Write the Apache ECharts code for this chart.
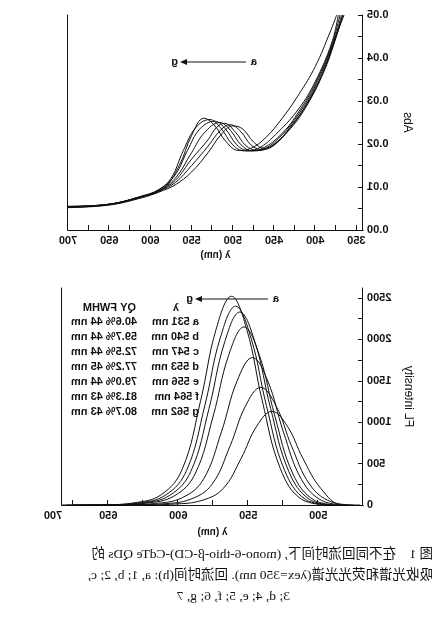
<!DOCTYPE html>
<html><head><meta charset="utf-8">
<script src="https://cdn.jsdelivr.net/npm/echarts@6/dist/echarts.min.js"></script>
<style>html,body{margin:0;padding:0;background:#fff}#c{width:442px;height:619px;transform:scaleX(-1)}</style>
</head><body><div id="c"></div>
<script>
// Absorption spectra (wavelength nm, Abs)
const absA=[[700,.0052],[650,.0058],[610,.0075],[590,.0088],[570,.0105],[550,.0135],[530,.018],[515,.022],[500,.0242],[488,.0235],[475,.0205],[462,.019],[450,.0198],[430,.024],[410,.0295],[390,.037],[375,.045],[365,.05]];
const absB=[[700,.0053],[650,.0059],[610,.0077],[590,.009],[570,.011],[550,.015],[530,.0195],[515,.0232],[503,.0245],[490,.0228],[478,.0198],[465,.0187],[450,.0197],[430,.0238],[410,.0293],[390,.0368],[375,.0448],[366,.05]];
const absC=[[700,.0053],[650,.0059],[610,.0078],[590,.0091],[570,.0115],[550,.0165],[530,.021],[520,.0238],[510,.0248],[497,.0228],[484,.0196],[470,.0185],[455,.0193],[430,.0236],[410,.029],[390,.0366],[375,.0446],[367,.05]];
const absD=[[700,.0054],[650,.006],[610,.0078],[590,.0092],[570,.012],[550,.018],[535,.0225],[516,.025],[503,.0232],[490,.0198],[476,.0184],[460,.019],[440,.0222],[420,.027],[400,.0335],[380,.0425],[368,.05]];
const absE=[[700,.0054],[650,.006],[610,.0079],[590,.0093],[570,.0128],[555,.0185],[540,.0235],[522,.0253],[509,.0235],[495,.0198],[481,.0184],[465,.0189],[440,.0225],[420,.0275],[400,.034],[380,.043],[370,.05]];
const absF=[[700,.0055],[650,.006],[610,.0079],[590,.0094],[575,.012],[560,.0185],[545,.0238],[528,.0257],[515,.0238],[500,.0198],[486,.0184],[470,.0189],[445,.0228],[420,.0282],[400,.0345],[380,.0435],[372,.05]];
const absG=[[700,.0055],[650,.006],[610,.0078],[585,.0095],[565,.015],[550,.022],[535,.026],[523,.0245],[508,.0205],[493,.0185],[478,.019],[460,.0215],[440,.026],[420,.0315],[400,.038],[382,.046],[374,.05]];
// Fluorescence spectra (wavelength nm, FL intensity)
const flA=[[470,0],[483,2],[498,197],[511,565],[522,950],[533,1130],[544,950],[555,565],[568,197],[583,56],[603,11],[625,1],[650,0]];
const flB=[[475,0],[491,40],[506,247],[519,710],[530,1193],[541,1420],[552,1193],[563,710],[576,247],[591,71],[611,14],[635,1],[660,0]];
const flC=[[480,0],[497,50],[512,310],[525,890],[536,1495],[547,1780],[558,1495],[569,890],[582,310],[597,89],[617,18],[640,2],[665,0]];
const flD=[[485,0],[503,60],[518,374],[531,1075],[542,1806],[553,2150],[564,1806],[575,1075],[588,374],[603,108],[623,22],[645,2],[670,0]];
const flE=[[488,0],[506,65],[521,405],[534,1165],[545,1957],[556,2330],[567,1957],[578,1165],[591,405],[606,117],[626,23],[648,2],[675,0]];
const flF=[[490,0],[509,67],[524,418],[537,1200],[548,2016],[559,2400],[570,2016],[581,1200],[594,418],[609,120],[629,24],[650,3],[680,0]];
const flG=[[492,0],[512,71],[527,438],[540,1260],[551,2117],[562,2520],[573,2117],[584,1260],[597,438],[612,126],[632,25],[653,3],[683,0]];
const absX=[350,400,450,500,550,600,650,700];
const absXMinor=[375,425,475,525,575,625,675];
const absY=[0,0.01,0.02,0.03,0.04,0.05];
const flX=[500,550,600,650];
const flY=[0,500,1000,1500,2000,2500];
const legendRows=[["a 531 nm","40.6% 44 nm"],["b 540 nm","59.7% 44 nm"],["c 547 nm","72.5% 44 nm"],["d 553 nm","77.2% 45 nm"],["e 556 nm","79.0% 44 nm"],["f 564 nm","81.3% 43 nm"],["g 562 nm","80.7% 43 nm"]];
const caption=["图 1　在不同回流时间下, (mono-6-thio-β-CD)-CdTe QDs 的","吸收光谱和荧光光谱(λex=350 nm). 回流时间(h): a, 1; b, 2; c,","3; d, 4; e, 5; f, 6; g, 7"];

const F='Arial, Liberation Sans, sans-serif';
const lab={color:'#111',fontSize:11,fontWeight:'bold',fontFamily:F};
function xa(grid,min,max,vals,minor,name,nameGap){
  return [{type:'value',gridIndex:grid,min,max,name,nameLocation:'middle',nameGap,nameTextStyle:{color:'#111',fontSize:10,fontFamily:F,fontWeight:'bold'},
    axisLine:{lineStyle:{color:'#111'}},splitLine:{show:false},
    axisTick:{inside:true,length:5,lineStyle:{color:'#111'},customValues:vals.concat(minor)},
    axisLabel:Object.assign({customValues:vals,margin:5},lab)},
   {type:'value',gridIndex:grid,min,max,position:'top',axisLine:{lineStyle:{color:'#111'}},axisTick:{show:false},axisLabel:{show:false},splitLine:{show:false}}];
}
function ya(grid,min,max,vals,minor,name,fmt){
  return [{type:'value',gridIndex:grid,min,max,name,nameLocation:'middle',nameGap:38,nameTextStyle:{color:'#111',fontSize:12,fontFamily:F},
    axisLine:{show:true,lineStyle:{color:'#111'}},splitLine:{show:false},
    axisTick:{inside:true,length:5,lineStyle:{color:'#111'},customValues:vals.concat(minor)},
    axisLabel:Object.assign({customValues:vals,formatter:fmt,margin:4},lab)},
   {type:'value',gridIndex:grid,min,max,position:'right',axisLine:{show:true,lineStyle:{color:'#111'}},axisTick:{show:false},axisLabel:{show:false},splitLine:{show:false}}];
}
const xs=[].concat(xa(0,342,700,absX,absXMinor,'λ (nm)',20),xa(1,468,683,flX,[525,575,625,675],'λ (nm)',22));
const ys=[].concat(ya(0,0,0.05,absY,[0.005,0.015,0.025,0.035,0.045],'Abs',v=>v.toFixed(2)),ya(1,0,2620,flY,[250,750,1250,1750,2250],'FL intensity',v=>v));
function s(data,xi,yi){return {type:'line',data,xAxisIndex:xi,yAxisIndex:yi,smooth:0.4,showSymbol:false,silent:true,lineStyle:{color:'#111',width:1}};}
const series=[absA,absB,absC,absD,absE,absF,absG].map(d=>s(d,0,0)).concat([flA,flB,flC,flD,flE,flF,flG].map(d=>s(d,2,2)));
const T=(x,y,t,o)=>Object.assign({type:'text',x,y,style:{text:t,fill:'#111',font:'bold 11px '+F}},o||{});
const g=[T(185,56,'a'),{type:'line',shape:{x1:196,y1:62,x2:258,y2:62},style:{stroke:'#111',lineWidth:1}},{type:'polygon',shape:{points:[[262,62],[255,59],[255,65]]},style:{fill:'#111'}},T(264,56,'g'),
 T(163,293,'a'),{type:'line',shape:{x1:174,y1:299,x2:243,y2:299},style:{stroke:'#111',lineWidth:1}},{type:'polygon',shape:{points:[[247,299],[240,296],[240,302]]},style:{fill:'#111'}},T(249,293,'g'),
 T(263,302,'λ'),T(306,302,'QY FWHM'),T(389,510,'700',{style:{text:'700',fill:'#111',font:'bold 11px '+F,align:'center'}})];
legendRows.forEach((r,i)=>{g.push(T(243,316+i*15,r[0]));g.push(T(305,316+i*15,r[1]));});
caption.forEach((c,i)=>g.push({type:'text',x:i==2?152:9,y:548+i*21,style:{text:c,fill:'#111',font:'13.5px "Liberation Serif","Noto Sans CJK SC",serif'}}));
const ch=echarts.init(document.getElementById('c'));
ch.setOption({animation:false,backgroundColor:'#fff',
 grid:[{left:79,right:68,top:15,height:215},{left:79,right:62,top:288,height:217}],
 xAxis:xs,yAxis:ys,series,graphic:g});
</script></body></html>
